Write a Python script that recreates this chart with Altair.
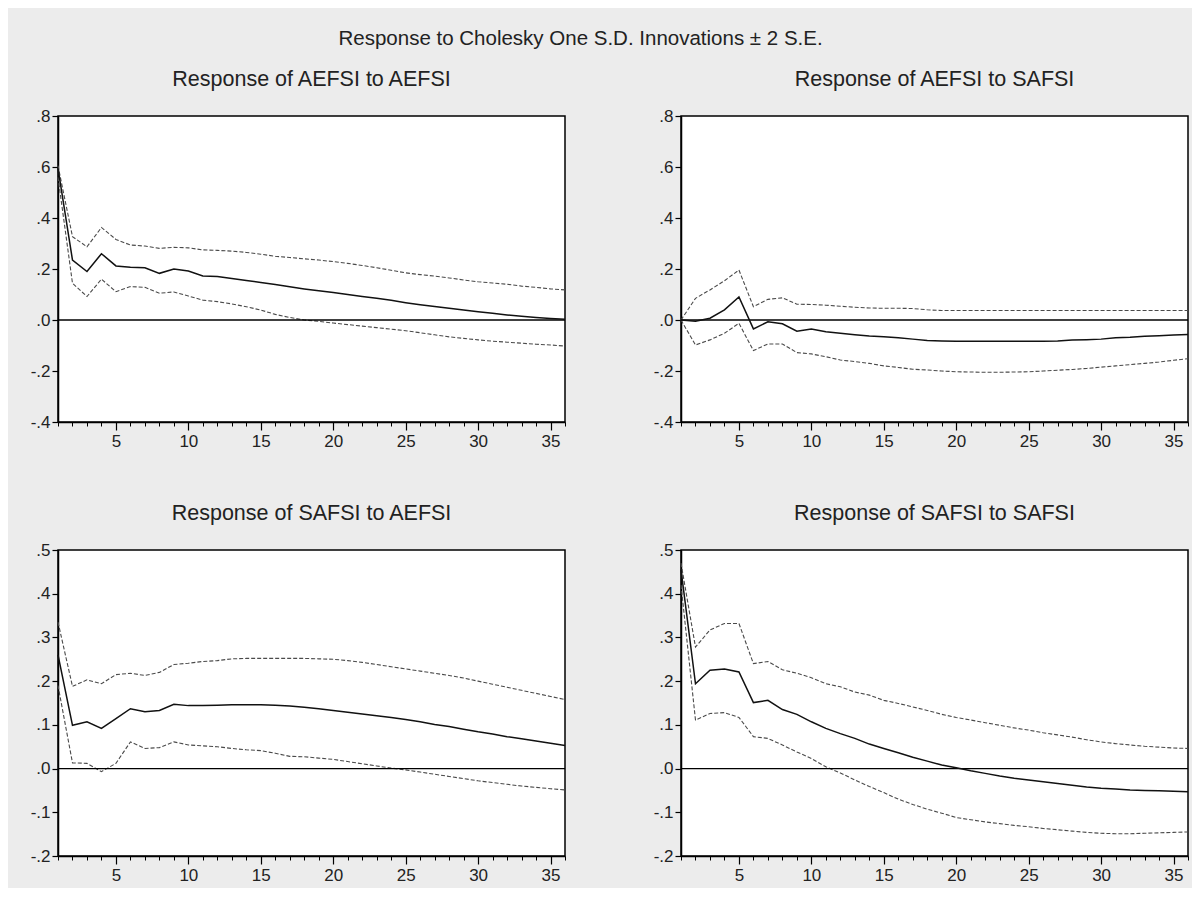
import altair as alt
import pandas as pd

periods = list(range(1, 37))

# Response of AEFSI to AEFSI
aa_resp = [0.595, 0.235, 0.19, 0.26, 0.212, 0.207, 0.205, 0.183, 0.20, 0.192, 0.173, 0.171, 0.163, 0.155, 0.147, 0.139, 0.130, 0.122, 0.115, 0.108, 0.100, 0.092, 0.085, 0.077, 0.068, 0.060, 0.053, 0.046, 0.039, 0.032, 0.026, 0.020, 0.015, 0.010, 0.006, 0.003]
aa_up = [0.605, 0.327, 0.287, 0.363, 0.316, 0.294, 0.290, 0.281, 0.285, 0.283, 0.275, 0.273, 0.270, 0.265, 0.258, 0.250, 0.245, 0.240, 0.235, 0.229, 0.222, 0.214, 0.205, 0.195, 0.185, 0.178, 0.172, 0.165, 0.157, 0.150, 0.145, 0.140, 0.133, 0.128, 0.122, 0.118]
aa_lo = [0.56, 0.144, 0.092, 0.160, 0.111, 0.131, 0.128, 0.105, 0.110, 0.094, 0.078, 0.072, 0.063, 0.052, 0.039, 0.022, 0.010, 0.000, -0.005, -0.012, -0.018, -0.024, -0.030, -0.036, -0.042, -0.050, -0.058, -0.066, -0.072, -0.078, -0.083, -0.087, -0.091, -0.095, -0.098, -0.102]

# Response of AEFSI to SAFSI
as_resp = [0.0, -0.005, 0.007, 0.04, 0.09, -0.035, -0.007, -0.015, -0.044, -0.035, -0.046, -0.052, -0.058, -0.063, -0.066, -0.070, -0.075, -0.080, -0.082, -0.083, -0.083, -0.083, -0.083, -0.083, -0.083, -0.083, -0.082, -0.078, -0.077, -0.075, -0.070, -0.068, -0.064, -0.062, -0.059, -0.057]
as_up = [0.0, 0.085, 0.118, 0.154, 0.196, 0.052, 0.081, 0.087, 0.062, 0.061, 0.058, 0.054, 0.050, 0.047, 0.046, 0.046, 0.045, 0.040, 0.037, 0.037, 0.037, 0.037, 0.037, 0.037, 0.037, 0.037, 0.037, 0.037, 0.037, 0.037, 0.037, 0.037, 0.037, 0.037, 0.037, 0.037]
as_lo = [0.0, -0.098, -0.078, -0.052, -0.013, -0.120, -0.094, -0.094, -0.128, -0.133, -0.144, -0.157, -0.163, -0.170, -0.180, -0.186, -0.193, -0.196, -0.200, -0.203, -0.204, -0.205, -0.205, -0.204, -0.203, -0.200, -0.197, -0.194, -0.190, -0.185, -0.180, -0.175, -0.170, -0.165, -0.158, -0.152]

# Response of SAFSI to AEFSI
sa_resp = [0.26, 0.099, 0.107, 0.092, 0.114, 0.137, 0.130, 0.133, 0.147, 0.144, 0.144, 0.145, 0.146, 0.146, 0.146, 0.145, 0.143, 0.140, 0.137, 0.133, 0.129, 0.125, 0.121, 0.117, 0.112, 0.107, 0.101, 0.096, 0.090, 0.084, 0.079, 0.073, 0.068, 0.063, 0.058, 0.053]
sa_up = [0.335, 0.188, 0.203, 0.194, 0.215, 0.218, 0.213, 0.220, 0.238, 0.241, 0.245, 0.247, 0.251, 0.252, 0.252, 0.252, 0.252, 0.252, 0.251, 0.250, 0.247, 0.243, 0.238, 0.233, 0.228, 0.223, 0.218, 0.213, 0.207, 0.200, 0.193, 0.186, 0.179, 0.172, 0.165, 0.158]
sa_lo = [0.19, 0.013, 0.012, -0.007, 0.012, 0.061, 0.046, 0.048, 0.061, 0.054, 0.052, 0.050, 0.046, 0.043, 0.041, 0.035, 0.028, 0.027, 0.024, 0.021, 0.016, 0.011, 0.006, 0.001, -0.003, -0.008, -0.013, -0.018, -0.023, -0.028, -0.032, -0.036, -0.040, -0.043, -0.046, -0.049]

# Response of SAFSI to SAFSI
ss_resp = [0.455, 0.194, 0.225, 0.228, 0.221, 0.151, 0.156, 0.135, 0.124, 0.107, 0.092, 0.080, 0.069, 0.056, 0.046, 0.036, 0.026, 0.017, 0.008, 0.002, -0.005, -0.011, -0.017, -0.022, -0.026, -0.030, -0.034, -0.038, -0.042, -0.045, -0.047, -0.049, -0.050, -0.051, -0.052, -0.053]
ss_up = [0.47, 0.278, 0.317, 0.332, 0.332, 0.240, 0.245, 0.226, 0.218, 0.208, 0.194, 0.187, 0.175, 0.168, 0.156, 0.149, 0.141, 0.133, 0.124, 0.117, 0.111, 0.105, 0.099, 0.093, 0.088, 0.082, 0.077, 0.072, 0.066, 0.061, 0.057, 0.054, 0.051, 0.049, 0.047, 0.046]
ss_lo = [0.42, 0.111, 0.126, 0.128, 0.117, 0.073, 0.069, 0.054, 0.038, 0.023, 0.004, -0.010, -0.026, -0.041, -0.055, -0.070, -0.082, -0.093, -0.102, -0.112, -0.117, -0.122, -0.126, -0.130, -0.133, -0.137, -0.140, -0.143, -0.146, -0.148, -0.149, -0.149, -0.148, -0.147, -0.146, -0.145]

titles = ["Response of AEFSI to AEFSI", "Response of AEFSI to SAFSI",
          "Response of SAFSI to AEFSI", "Response of SAFSI to SAFSI"]
top_ticks = [-0.4, -0.2, 0.0, 0.2, 0.4, 0.6, 0.8]
bottom_ticks = [-0.2, -0.1, 0.0, 0.1, 0.2, 0.3, 0.4, 0.5]
major_x = [5, 10, 15, 20, 25, 30, 35]

FONT = "Liberation Sans"
TXT = "#222222"
W = 507
H = 306

YLABEL = "replace(replace(format(datum.value, '.1f'), '0.', '.'), '\u2212', '-')"


def panel(title, resp, up, lo, ydom, yvals):
    df = pd.DataFrame({"period": periods, "resp": resp, "up": up, "lo": lo})
    bands = df.melt(id_vars="period", value_vars=["up", "lo"],
                    var_name="band", value_name="value")
    xscale = alt.Scale(domain=[1, 36], nice=False, zero=False)
    yscale = alt.Scale(domain=ydom, nice=False, zero=False)
    yaxis = alt.Axis(values=yvals, title=None, grid=False, tickSize=6,
                     labelExpr=YLABEL,
                     labelFont=FONT, labelFontSize=17, labelColor=TXT,
                     labelPadding=2, domainColor="black", tickColor="black",
                     domainWidth=1.5, tickWidth=1.2)
    minor_axis = alt.Axis(values=periods, orient="bottom", title=None, grid=False,
                          labels=False, tickSize=4, tickColor="black", tickWidth=1,
                          domainColor="black", domainWidth=1.5)
    major_axis = alt.Axis(values=major_x, orient="bottom", title=None, grid=False,
                          tickSize=8, tickColor="black", tickWidth=1.2,
                          labelFont=FONT, labelFontSize=17, labelColor=TXT,
                          labelPadding=3, domain=False)
    band_layer = alt.Chart(bands).mark_line(
        color="#4a4a4a", strokeDash=[4, 2], strokeWidth=1.1
    ).encode(
        x=alt.X("period:Q", scale=xscale, axis=minor_axis),
        y=alt.Y("value:Q", scale=yscale, axis=yaxis),
        detail="band:N",
    )
    zero_layer = alt.Chart(pd.DataFrame({"value": [0.0]})).mark_rule(
        color="black", strokeWidth=1.3
    ).encode(y=alt.Y("value:Q", scale=yscale, axis=yaxis))
    resp_layer = alt.Chart(df).mark_line(color="#111111", strokeWidth=1.5).encode(
        x=alt.X("period:Q", scale=xscale, axis=major_axis),
        y=alt.Y("resp:Q", scale=yscale, axis=yaxis),
    )
    return alt.layer(band_layer, zero_layer, resp_layer).resolve_axis(
        x="independent"
    ).properties(
        width=W, height=H,
        title=alt.TitleParams(title, font=FONT, fontSize=21.5, fontWeight="normal",
                              color=TXT, anchor="middle", offset=17),
    )


p1 = panel(titles[0], aa_resp, aa_up, aa_lo, [-0.4, 0.8], top_ticks)
p2 = panel(titles[1], as_resp, as_up, as_lo, [-0.4, 0.8], top_ticks)
p3 = panel(titles[2], sa_resp, sa_up, sa_lo, [-0.2, 0.5], bottom_ticks)
p4 = panel(titles[3], ss_resp, ss_up, ss_lo, [-0.2, 0.5], bottom_ticks)

chart = alt.concat(
    p1, p2, p3, p4, columns=2, bounds="flush",
    spacing={"row": 128, "column": 116},
).properties(
    title=alt.TitleParams("Response to Cholesky One S.D. Innovations \u00b1 2 S.E.",
                          font=FONT, fontSize=20.5, fontWeight="normal", color=TXT,
                          anchor="middle", offset=18, dx=-30),
    background="#ececec",
    padding={"left": 21, "top": 21, "right": 0, "bottom": 4},
).configure_view(
    stroke="black", strokeWidth=1.5, fill="white"
)

chart.save("out.html", embed_options={"renderer": "svg", "actions": False})
